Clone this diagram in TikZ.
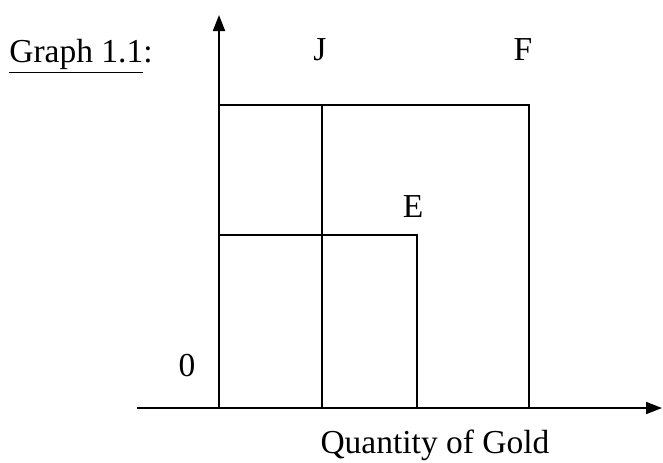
\documentclass[tikz,border=0pt]{standalone}
\usepackage{fontspec}
\setmainfont{Liberation Serif}
\usetikzlibrary{arrows.meta}

\begin{document}
\begin{tikzpicture}[x=0.5pt,y=0.5pt,
    axis/.style={line width=0.9pt,-{Triangle[length=8pt,width=6pt]}},
    edge/.style={line width=0.9pt},
    lbl/.style={anchor=base,inner sep=0pt,font=\fontsize{16.75}{20}\selectfont}]
  \useasboundingbox (0,0) rectangle (663,462);
  % axes
  \coordinate (o) at (219,54);
  \coordinate (ytop) at (219,447);
  \coordinate (xleft) at (137,54);
  \coordinate (xright) at (662,54);
  \draw[axis] (o) -- (ytop);
  \draw[axis] (xleft) -- (xright);
  % corner points
  \coordinate (tl) at (219,357);
  \coordinate (jt) at (322,357);
  \coordinate (jb) at (322,54);
  \coordinate (ft) at (529,357);
  \coordinate (fb) at (529,54);
  \coordinate (el) at (219,227);
  \coordinate (e) at (417,227);
  \coordinate (eb) at (417,54);
  \draw[edge] (tl) -- (ft) -- (fb);
  \draw[edge] (jt) -- (jb);
  \draw[edge] (el) -- (e) -- (eb);
  % labels
  \node[lbl,anchor=base west] (title) at (9,400) {\underline{Graph 1.1}:};
  \node[lbl] (jlab) at (320,402) {J};
  \node[lbl] (flab) at (523,402) {F};
  \node[lbl] (elab) at (413,245) {E};
  \node[lbl] (zero) at (187,86) {0};
  \node[lbl] (xlab) at (435,9) {Quantity of Gold};
\end{tikzpicture}
\end{document}
